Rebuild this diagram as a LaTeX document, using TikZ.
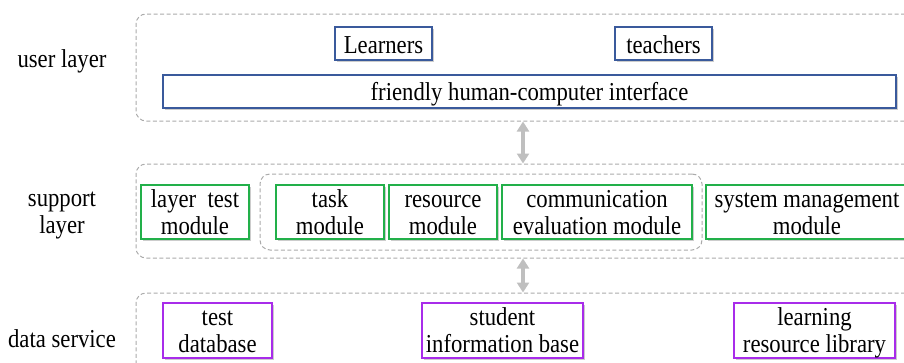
\documentclass[tikz,border=0pt]{standalone}
\usepackage{fontspec}
\setmainfont{Liberation Serif}[FakeStretch=0.88]
\usetikzlibrary{arrows.meta,shadows}
\definecolor{bblue}{HTML}{3A5A9C}
\definecolor{bgreen}{HTML}{22B04A}
\definecolor{bpurple}{HTML}{A82CEA}
\definecolor{dgray}{HTML}{ABABAB}
\definecolor{agray}{HTML}{BFBFBF}
\newcommand\ssx{\rule[-5.5pt]{0pt}{30pt}}
\newcommand\fsx{\rule{0pt}{17.6pt}}
\newcommand\nodepth[1]{\raisebox{0pt}[\height][0pt]{#1}}
\begin{document}
\begin{tikzpicture}[x=1pt,y=-1pt,
  every node/.style={font=\fontsize{25.8}{27}\selectfont, inner sep=0pt, align=center},
  box/.style={draw, fill=white, line width=1.6pt,
    drop shadow={shadow xshift=1.5pt, shadow yshift=-1.5pt, opacity=0.2, fill=black}},
  ubox/.style={box, draw=bblue, minimum height=33pt},
  sbox/.style={box, draw=bgreen, minimum height=54pt},
  dbox/.style={box, draw=bpurple, minimum height=55pt},
  outer/.style={draw=dgray, line width=1pt, dash pattern=on 4pt off 2.5pt, rounded corners=10pt},
  layerlabel/.style={},
  arr/.style={draw=agray, line width=3.5pt, {Triangle[width=12pt,length=10pt]}-{Triangle[width=12pt,length=10pt]}}]
\useasboundingbox (0,0) rectangle (904,362);
\clip (0,0) rectangle (904,362);

% containers
\node[outer, minimum width=779pt, minimum height=107pt] (user) at (525.5,67.5) {};
\node[outer, minimum width=779pt, minimum height=94pt] (support) at (525.5,211) {};
\node[outer, minimum width=779pt, minimum height=87pt] (data) at (525.5,336.5) {};
\node[outer, minimum width=442pt, minimum height=76pt] (inner) at (481,212) {};

% layer labels
\node[layerlabel] (lu) at (62,58) {\ssx user layer\ssx};
\node[layerlabel] (ls) at (62,211) {\fsx support\\\nodepth{layer}};
\node[layerlabel] (ld) at (62,338) {\ssx data service\ssx};

% user layer
\node[ubox, minimum width=97pt] (learners) at (383.5,43.5) {\ssx Learners\ssx};
\node[ubox, minimum width=97pt] (teachers) at (663.5,43.5) {\ssx teachers\ssx};
\node[ubox, minimum width=733pt] (ui) at (529.5,91.5) {\ssx friendly human-computer interface\ssx};

% support layer
\node[sbox, minimum width=108pt] (ltm) at (195,212) {\fsx layer\ \ test\\module};
\node[sbox, minimum width=108pt] (task) at (330,212) {\fsx task\\module};
\node[sbox, minimum width=108pt] (res) at (443,212) {\fsx resource\\module};
\node[sbox, minimum width=190pt] (comm) at (597,212) {\fsx communication\\evaluation module};
\node[sbox, minimum width=202pt] (sys) at (807,212) {\fsx system management\\module};

% data service
\node[dbox, minimum width=109pt] (tdb) at (217.5,330.5) {\fsx test\\database};
\node[dbox, minimum width=161pt] (sib) at (502.5,330.5) {\fsx student\\information base};
\node[dbox, minimum width=161pt] (lrl) at (814.5,330.5) {\fsx learning\\\nodepth{resource library}};

% arrows
\coordinate (ax) at (523,0);
\draw[arr] (user.south -| ax) -- (support.north -| ax);
\draw[arr] (support.south -| ax) -- (data.north -| ax);
\end{tikzpicture}
\end{document}
